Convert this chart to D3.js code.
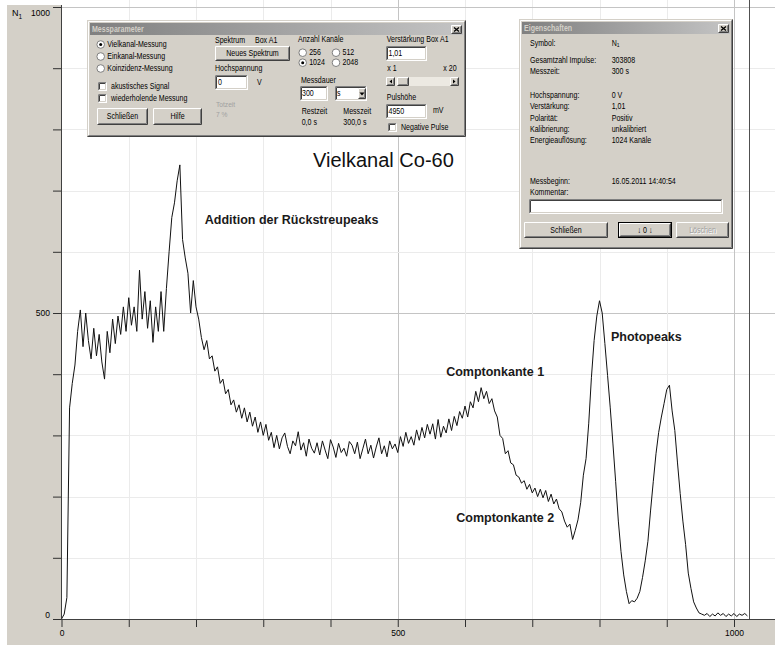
<!DOCTYPE html>
<html>
<head>
<meta charset="utf-8">
<script src="https://cdn.jsdelivr.net/npm/d3@7"></script>
<style>
body { margin: 0; background: #ffffff; }
svg text { font-family: "Liberation Sans", Arial, sans-serif; }
</style>
</head>
<body>
<div id="spectrum"></div>
<script>
var width = 775;
var height = 645;

// counts, every 4th channel (0 .. 1020)
var channel_step = 4;
var counts = [
    0, 8, 35, 345, 385, 415, 470, 505, 445, 500,
    455, 425, 475, 430, 465, 420, 392, 470, 435, 490,
    450, 495, 465, 510, 470, 525, 480, 510, 470, 570,
    490, 535, 475, 520, 452, 510, 470, 535, 470, 540,
    600, 656, 680, 716, 742, 620, 590, 565, 500, 553,
    510, 490, 460, 440, 455, 425, 430, 405, 412, 385,
    392, 368, 375, 350, 358, 338, 350, 328, 345, 322,
    338, 315, 330, 305, 322, 300, 318, 292, 305, 280,
    300, 278, 296, 304, 282, 270, 291, 283, 306, 276,
    288, 266, 294, 279, 271, 288, 268, 291, 276, 262,
    293, 281, 264, 287, 272, 279, 266, 290, 284, 270,
    289, 262, 278, 294, 270, 284, 263, 281, 296, 270,
    283, 265, 291, 278, 286, 272, 298, 282, 305, 287,
    298, 284, 309, 292, 313, 296, 318, 302, 319, 294,
    326, 297, 315, 304, 327, 308, 331, 316, 339, 328,
    348, 330, 355, 345, 372, 355, 378, 360, 372, 352,
    360, 340, 330, 300, 295, 270, 275, 255, 252, 235,
    232, 222, 226, 212, 220, 206, 214, 200, 212, 198,
    210, 192, 204, 188, 196, 180, 175, 160, 150, 155,
    130, 145, 162, 190, 235, 262, 320, 395, 455, 495,
    520, 500, 450, 398, 345, 286, 225, 160, 110, 72,
    45, 25, 30, 28, 34, 45, 68, 95, 127, 178,
    225, 270, 305, 330, 352, 375, 382, 340, 308, 255,
    205, 160, 122, 75, 50, 28, 18, 10, 8, 6,
    9, 4, 8, 5, 10, 6, 9, 4, 8, 5,
    9, 4, 8, 6, 9, 5
];
var last_channel = 1022;

var axis_ticks = [0, 100, 200, 300, 400, 500, 600, 700, 800, 900, 1000];
var labelled_ticks = [0, 500, 1000];

// dialog texts
var mode_options = ['Vielkanal-Messung', 'Einkanal-Messung', 'Koinzidenz-Messung'];
var check_options = ['akustisches Signal', 'wiederholende Messung'];
var channel_options = ['256', '512', '1024', '2048'];
var prop_labels = ['Symbol:', 'Gesamtzahl Impulse:', 'Messzeit:', 'Hochspannung:', 'Verstärkung:',
                   'Polarität:', 'Kalibrierung:', 'Energieauflösung:', 'Messbeginn:'];
var prop_values = ['N', '303808', '300 s', '0 V', '1,01', 'Positiv', 'unkalibriert', '1024 Kanäle', '16.05.2011 14:40:54'];

var svg = d3.select('#spectrum').append('svg').attr('width', width).attr('height', height);

var defs = svg.append('defs');
var grad = defs.append('linearGradient').attr('id', 'title_grad').attr('x1', 0).attr('x2', 1).attr('y1', 0).attr('y2', 0);
grad.append('stop').attr('offset', 0).attr('stop-color', '#808080');
grad.append('stop').attr('offset', 1).attr('stop-color', '#c4c4c4');

var x = d3.scaleLinear().domain([0, 1000]).range([61.5, 734]);
var y = d3.scaleLinear().domain([0, 1000]).range([619, 7]);

// panels
svg.append('rect').attr('x', 0).attr('y', 0).attr('width', width).attr('height', height).attr('fill', '#ffffff');
svg.append('rect').attr('x', 7).attr('y', 5).attr('width', width - 7).attr('height', height - 5).attr('fill', '#d4d0c8');
svg.append('rect').attr('x', 62).attr('y', 0).attr('width', width - 62).attr('height', 619).attr('fill', '#ffffff');

// grid
var grid = svg.append('g').attr('shape-rendering', 'crispEdges');
axis_ticks.slice(1).forEach(function(t) {
    grid.append('line')
        .attr('x1', Math.round(x(t)) + 0.5).attr('x2', Math.round(x(t)) + 0.5)
        .attr('y1', 0).attr('y2', 619)
        .attr('stroke', t % 500 == 0 ? '#c4c4c4' : '#ebebeb');
    grid.append('line')
        .attr('x1', 62).attr('x2', width)
        .attr('y1', Math.round(y(t)) + 0.5).attr('y2', Math.round(y(t)) + 0.5)
        .attr('stroke', t % 500 == 0 ? '#c4c4c4' : '#ebebeb');
});

// spectrum
var line = d3.line()
             .x(function(d, i) { return x(i * channel_step); })
             .y(function(d) { return y(d); });

svg.append('path')
   .attr('d', line(counts))
   .attr('fill', 'none')
   .attr('stroke', '#111111')
   .attr('stroke-width', 1);

svg.append('line')
   .attr('x1', Math.round(x(last_channel)) + 0.5).attr('x2', Math.round(x(last_channel)) + 0.5)
   .attr('y1', 0).attr('y2', 619)
   .attr('stroke', '#505050');

// axes
var fmt = function(d) { return labelled_ticks.indexOf(d) >= 0 ? d : ''; };

var gy = svg.append('g').attr('transform', 'translate(62,0)')
            .call(d3.axisLeft(y).tickValues(axis_ticks).tickSize(9).tickSizeOuter(0).tickFormat(fmt));
gy.select('.domain').remove();
gy.selectAll('.tick line').attr('stroke', '#303030');
gy.selectAll('text').attr('font-size', 8.5).attr('fill', '#000')
  .attr('dy', function(d) { return d == 1000 ? '0.95em' : (d == 0 ? '-0.15em' : '0.32em'); });

var gx = svg.append('g').attr('transform', 'translate(0,619)')
            .call(d3.axisBottom(x).tickValues(axis_ticks).tickSize(8).tickSizeOuter(0).tickFormat(fmt));
gx.select('.domain').remove();
gx.selectAll('.tick line').attr('stroke', '#303030');
gx.selectAll('text').attr('font-size', 8.5).attr('fill', '#000');

svg.append('line').attr('x1', 61.5).attr('x2', 61.5).attr('y1', 5).attr('y2', 619.5).attr('stroke', '#404040');
svg.append('line').attr('x1', 61.5).attr('x2', width).attr('y1', 619.5).attr('y2', 619.5).attr('stroke', '#404040');

var n_label = svg.append('text').attr('x', 12).attr('y', 16).attr('font-size', 9).attr('fill', '#000');
n_label.append('tspan').text('N');
n_label.append('tspan').attr('font-size', 6.5).attr('dy', 3).text('1');

// annotations
svg.append('text').attr('x', x(374)).attr('y', y(739)).attr('font-size', 20).attr('fill', '#111').text('Vielkanal Co-60');

var notes = svg.append('g').attr('font-size', 12.5).attr('font-weight', 'bold').attr('fill', '#1a1a1a');
notes.append('text').attr('x', x(213)).attr('y', y(645)).text('Addition der Rückstreupeaks');
notes.append('text').attr('x', x(572)).attr('y', y(397)).text('Comptonkante 1');
notes.append('text').attr('x', x(587)).attr('y', y(158)).text('Comptonkante 2');
notes.append('text').attr('x', x(817)).attr('y', y(455)).text('Photopeaks');


//------- windows style widgets
function win_text(g, tx, ty, str, opts) {
    opts = opts || {};
    var t = g.append('text')
             .attr('transform', 'translate(' + tx + ',' + ty + ') scale(0.83,1)')
             .attr('dominant-baseline', 'central')
             .attr('font-size', opts.size || 8.5)
             .attr('font-weight', opts.weight || 'normal')
             .attr('text-anchor', opts.anchor || 'start')
             .attr('fill', opts.fill || '#000')
             .text(str);
    return t;
}

function bevel(g, x0, y0, w, h, light, dark) {
    x0 = Math.round(x0); y0 = Math.round(y0); w = Math.round(w); h = Math.round(h);
    g.append('path').attr('d', 'M' + (x0 + 0.5) + ',' + (y0 + h - 0.5) + 'V' + (y0 + 0.5) + 'H' + (x0 + w - 0.5))
     .attr('stroke', light).attr('fill', 'none');
    g.append('path').attr('d', 'M' + (x0 + 0.5) + ',' + (y0 + h - 0.5) + 'H' + (x0 + w - 0.5) + 'V' + (y0 + 0.5))
     .attr('stroke', dark).attr('fill', 'none');
}

function raised(g, x0, y0, w, h) {
    g.append('rect').attr('x', Math.round(x0)).attr('y', Math.round(y0)).attr('width', Math.round(w)).attr('height', Math.round(h)).attr('fill', '#d4d0c8');
    bevel(g, x0, y0, w, h, '#ffffff', '#404040');
    bevel(g, x0 + 1, y0 + 1, w - 2, h - 2, '#d4d0c8', '#808080');
}

function sunken(g, x0, y0, w, h, fill) {
    g.append('rect').attr('x', Math.round(x0)).attr('y', Math.round(y0)).attr('width', Math.round(w)).attr('height', Math.round(h)).attr('fill', fill || '#ffffff');
    bevel(g, x0, y0, w, h, '#808080', '#ffffff');
    bevel(g, x0 + 1, y0 + 1, w - 2, h - 2, '#404040', '#d4d0c8');
}

function button(g, x0, y0, w, h, label, opts) {
    opts = opts || {};
    if (opts.is_default) {
        g.append('rect').attr('x', Math.round(x0) + 0.5).attr('y', Math.round(y0) + 0.5)
         .attr('width', Math.round(w) - 1).attr('height', Math.round(h) - 1)
         .attr('fill', 'none').attr('stroke', '#000');
        raised(g, x0 + 1, y0 + 1, w - 2, h - 2);
    } else {
        raised(g, x0, y0, w, h);
    }
    if (opts.disabled) {
        win_text(g, x0 + w / 2 + 1, y0 + h / 2 + 1, label, {anchor: 'middle', fill: '#ffffff'});
        win_text(g, x0 + w / 2, y0 + h / 2, label, {anchor: 'middle', fill: '#a0a0a0'});
    } else {
        win_text(g, x0 + w / 2, y0 + h / 2, label, {anchor: 'middle'});
    }
}

function radio(g, cx, cy, label, checked) {
    g.append('circle').attr('cx', cx).attr('cy', cy).attr('r', 3.8).attr('fill', '#ffffff').attr('stroke', '#808080');
    if (checked) {
        g.append('circle').attr('cx', cx).attr('cy', cy).attr('r', 1.5).attr('fill', '#000');
    }
    win_text(g, cx + 6.5, cy, label);
}

function checkbox(g, x0, y0, label) {
    sunken(g, x0, y0, 9, 9, '#ffffff');
    win_text(g, x0 + 13, y0 + 4.5, label);
}

function dialog(g, x0, y0, w, h, title) {
    g.append('rect').attr('x', x0).attr('y', y0).attr('width', w).attr('height', h).attr('fill', '#d4d0c8');
    bevel(g, x0, y0, w, h, '#d4d0c8', '#404040');
    bevel(g, x0 + 1, y0 + 1, w - 2, h - 2, '#ffffff', '#808080');
    g.append('rect').attr('x', x0 + 3).attr('y', y0 + 3).attr('width', w - 6).attr('height', 12).attr('fill', 'url(#title_grad)');
    win_text(g, x0 + 5, y0 + 9, title, {weight: 'bold', fill: '#d4d0c8'});
    var bx = x0 + w - 15, by = y0 + 5;
    raised(g, bx, by, 11, 9);
    g.append('path').attr('d', 'M' + (bx + 3) + ',' + (by + 2.5) + 'L' + (bx + 8) + ',' + (by + 6.5) +
                               'M' + (bx + 8) + ',' + (by + 2.5) + 'L' + (bx + 3) + ',' + (by + 6.5))
     .attr('stroke', '#000').attr('stroke-width', 1.4);
}

//------- Messparameter
var mp = svg.append('g').attr('class', 'messparameter');
dialog(mp, 87, 20, 379, 117, 'Messparameter');

var mode_y = [44.5, 56.5, 68.5];
mode_options.forEach(function(m, i) { radio(mp, 100.7, mode_y[i], m, i == 0); });
checkbox(mp, 98, 82, check_options[0]);
checkbox(mp, 98, 93.5, check_options[1]);
button(mp, 97, 108, 51, 17, 'Schließen');
button(mp, 153, 108, 49, 17, 'Hilfe');

win_text(mp, 215, 40, 'Spektrum');
win_text(mp, 255, 40, 'Box A1');
button(mp, 215, 46, 75, 15, 'Neues Spektrum');
win_text(mp, 215, 68.5, 'Hochspannung');
sunken(mp, 215, 75, 33, 15);
win_text(mp, 218, 82.5, '0');
win_text(mp, 257, 82, 'V');
win_text(mp, 216, 104.5, 'Totzeit', {fill: '#a0a0a0', size: 8});
win_text(mp, 216, 114, '7 %', {fill: '#a0a0a0', size: 8});

win_text(mp, 298, 39.5, 'Anzahl Kanäle');
var ch_pos = [[302.7, 52.7], [336, 52.7], [302.7, 62.7], [336, 62.7]];
channel_options.forEach(function(c, i) { radio(mp, ch_pos[i][0], ch_pos[i][1], c, c == '1024'); });
win_text(mp, 301, 80, 'Messdauer');
sunken(mp, 300, 86, 28, 15);
win_text(mp, 302, 93.5, '300');
sunken(mp, 335, 86, 32, 15);
win_text(mp, 337, 93.5, 's');
raised(mp, 358, 88, 8, 11);
mp.append('path').attr('d', 'M359.5,92.5L364.5,92.5L362,95.5Z').attr('fill', '#000');
win_text(mp, 301.7, 111.7, 'Restzeit');
win_text(mp, 343.3, 111.7, 'Messzeit');
win_text(mp, 301.7, 122.7, '0,0 s');
win_text(mp, 343.3, 122.7, '300,0 s');

win_text(mp, 386.7, 39.5, 'Verstärkung Box A1');
sunken(mp, 386, 46, 41, 15);
win_text(mp, 388.5, 53.5, '1,01');
win_text(mp, 387.3, 68.3, 'x 1');
win_text(mp, 443.3, 68.3, 'x 20');
mp.append('rect').attr('x', 386).attr('y', 77).attr('width', 73).attr('height', 9).attr('fill', '#ece9e2');
raised(mp, 386, 77, 9, 9);
mp.append('path').attr('d', 'M392,79.5L392,83.5L389.5,81.5Z').attr('fill', '#000');
raised(mp, 397, 77, 12, 9);
raised(mp, 450, 77, 9, 9);
mp.append('path').attr('d', 'M453,79.5L453,83.5L455.5,81.5Z').attr('fill', '#000');
win_text(mp, 386.7, 97.5, 'Pulshöhe');
sunken(mp, 386, 104, 41, 15);
win_text(mp, 388.5, 111.5, '4950');
win_text(mp, 433, 110, 'mV');
checkbox(mp, 388, 122.5, 'Negative Pulse');

//------- Eigenschaften
var eg = svg.append('g').attr('class', 'eigenschaften');
dialog(eg, 519, 19, 214, 230, 'Eigenschaften');

var prop_y = [43.3, 60.7, 71.7, 95, 106.7, 118.3, 129.3, 140.7, 181.7];
prop_labels.forEach(function(l, i) {
    win_text(eg, 530, prop_y[i], l);
    var v = win_text(eg, 611.7, prop_y[i], prop_values[i]);
    if (i == 0) {
        v.append('tspan').attr('font-size', 6).attr('dy', 2).text('1');
    }
});
win_text(eg, 530, 192.7, 'Kommentar:');
sunken(eg, 529, 199, 194, 15);
button(eg, 524, 222, 84, 16, 'Schließen');
button(eg, 618, 222, 54, 16, '\u2193 0 \u2193', {is_default: true});
button(eg, 676, 222, 53, 16, 'Löschen', {disabled: true});
</script>
</body>
</html>
